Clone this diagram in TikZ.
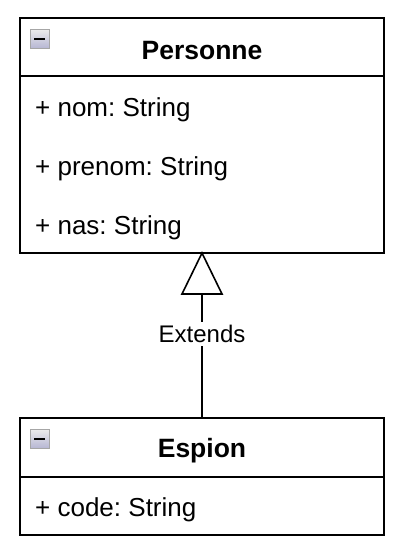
\documentclass[tikz,border=0pt]{standalone}
\usepackage{fontspec}
\setmainfont{Liberation Sans}
\frenchspacing
\begin{document}
\begin{tikzpicture}[x=1pt,y=-1pt,
  box/.style={draw=black,line width=1.6pt,fill=white},
  sep/.style={draw=black,line width=1.6pt},
  title/.style={font=\fontsize{26.5}{30}\selectfont\bfseries,inner sep=0pt,anchor=center},
  attr/.style={font=\fontsize{26}{30}\selectfont,inner sep=0pt,anchor=west},
  lbl/.style={font=\fontsize{24}{28}\selectfont,fill=white,inner sep=3pt},
  icon/.style={draw=gray!70,line width=0.8pt,top color=gray!15,bottom color=blue!25!gray!45}
]
\useasboundingbox (0,0) rectangle (403,555);
% Personne
\draw[box] (20,18) rectangle (384,253);
\coordinate (ptop) at (202,253);
\draw[sep] (20,76) -- (384,76);
\node[title] (pt) at (202,51) {Personne};
\draw[icon] (30,29) rectangle (49,48);
\draw[line width=2pt] (34,38.5) -- (45,38.5);
\node[attr] (a1) at (35,110) {\frenchspacing + nom: String};
\node[attr] (a2) at (35,169) {\frenchspacing + prenom: String};
\node[attr] (a3) at (35,228) {\frenchspacing + nas: String};
% Espion
\draw[box] (20,418) rectangle (384,535);
\coordinate (etop) at (202,418);
\draw[sep] (20,477) -- (384,477);
\node[title] (et) at (202,451) {Espion};
\draw[icon] (30,429) rectangle (49,448);
\draw[line width=2pt] (34,438.5) -- (45,438.5);
\node[attr] (b1) at (35,510) {\frenchspacing + code: String};
% Inheritance
\coordinate (tb) at (202,294);
\draw[line width=1.6pt] (etop) -- (tb);
\draw[line width=1.6pt,fill=white,line join=miter] (ptop) -- (182,294) -- (222,294) -- cycle;
\node[lbl] (ext) at (202,334) {Extends};
\end{tikzpicture}
\end{document}
